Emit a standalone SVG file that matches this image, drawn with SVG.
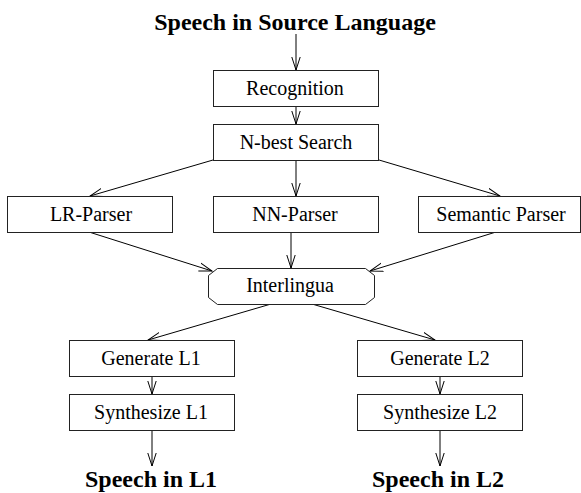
<svg xmlns="http://www.w3.org/2000/svg" width="581" height="493" viewBox="0 0 581 493">
<style>
  .box { fill: #fff; stroke: #222; stroke-width: 1; }
  .lbl { font-family: "Liberation Serif", "Times New Roman", serif; font-size: 20px; fill: #000; text-anchor: middle; }
  .ttl { font-family: "Liberation Serif", "Times New Roman", serif; font-size: 24px; font-weight: bold; fill: #000; text-anchor: middle; }
  .edge { stroke: #000; stroke-width: 1; fill: none; marker-end: url(#arr); }
</style>
<defs>
  <marker id="arr" markerUnits="userSpaceOnUse" markerWidth="15" markerHeight="11" refX="13" refY="5" orient="auto">
    <path d="M0,0.8 L13,5 L0,9.2" fill="none" stroke="#000" stroke-width="1"/>
  </marker>
</defs>
<rect width="581" height="493" fill="#fff"/>

<g id="connectors">
  <line class="edge" x1="296" y1="34" x2="296" y2="70"/>
  <line class="edge" x1="296" y1="106" x2="296" y2="124"/>
  <line class="edge" x1="213" y1="160" x2="90" y2="196"/>
  <line class="edge" x1="296" y1="160" x2="296" y2="196"/>
  <line class="edge" x1="379" y1="160" x2="500" y2="196"/>
  <line class="edge" x1="89" y1="232" x2="212" y2="271"/>
  <line class="edge" x1="291" y1="232" x2="291" y2="268"/>
  <line class="edge" x1="496" y1="232" x2="370" y2="271"/>
  <line class="edge" x1="271" y1="304" x2="148" y2="340"/>
  <line class="edge" x1="312" y1="304" x2="435" y2="340"/>
  <line class="edge" x1="152" y1="376" x2="152" y2="394"/>
  <line class="edge" x1="152" y1="430" x2="152" y2="466"/>
  <line class="edge" x1="440" y1="376" x2="440" y2="394"/>
  <line class="edge" x1="440" y1="430" x2="440" y2="466"/>
</g>

<g id="source">
  <text class="ttl" x="295" y="30">Speech in Source Language</text>
</g>
<g id="recognition">
  <rect class="box" x="213.5" y="70.5" width="165" height="36"/>
  <text class="lbl" x="295" y="95">Recognition</text>
</g>
<g id="nbest">
  <rect class="box" x="213.5" y="124.5" width="165" height="36"/>
  <text class="lbl" x="296" y="149">N-best Search</text>
</g>
<g id="lrparser">
  <rect class="box" x="7.5" y="196.5" width="165" height="36"/>
  <text class="lbl" x="91" y="221">LR-Parser</text>
</g>
<g id="nnparser">
  <rect class="box" x="213.5" y="196.5" width="165" height="36"/>
  <text class="lbl" x="295" y="221">NN-Parser</text>
</g>
<g id="semparser">
  <rect class="box" x="418.5" y="196.5" width="162" height="36"/>
  <text class="lbl" x="501" y="221">Semantic Parser</text>
</g>
<g id="interlingua">
  <polygon class="box" points="217.5,268.5 365.5,268.5 374.5,275.5 374.5,297.5 365.5,304.5 217.5,304.5 208.5,297.5 208.5,275.5"/>
  <text class="lbl" x="290" y="292">Interlingua</text>
</g>
<g id="gen1">
  <rect class="box" x="69.5" y="340.5" width="165" height="36"/>
  <text class="lbl" x="151" y="365">Generate L1</text>
</g>
<g id="syn1">
  <rect class="box" x="69.5" y="394.5" width="165" height="36"/>
  <text class="lbl" x="151" y="419">Synthesize L1</text>
</g>
<g id="gen2">
  <rect class="box" x="357.5" y="340.5" width="165" height="36"/>
  <text class="lbl" x="440" y="365">Generate L2</text>
</g>
<g id="syn2">
  <rect class="box" x="357.5" y="394.5" width="165" height="36"/>
  <text class="lbl" x="440" y="419">Synthesize L2</text>
</g>
<g id="out1">
  <text class="ttl" x="151" y="487">Speech in L1</text>
</g>
<g id="out2">
  <text class="ttl" x="438" y="487">Speech in L2</text>
</g>
</svg>
